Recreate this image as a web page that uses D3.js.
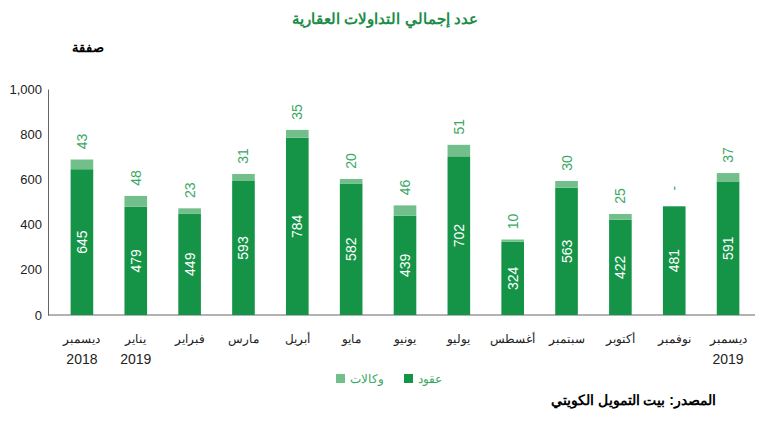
<!DOCTYPE html>
<html><head><meta charset="utf-8">
<script src="https://cdn.jsdelivr.net/npm/d3@7"></script>
<style>body{margin:0;background:#fff;font-family:"Liberation Sans",Arial,sans-serif}</style>
</head><body>
<script>
var months = ["ديسمبر", "يناير", "فبراير", "مارس", "أبريل", "مايو", "يونيو", "يوليو", "أغسطس", "سبتمبر", "أكتوبر", "نوفمبر", "ديسمبر"];
var years = ["2018", "2019", "", "", "", "", "", "", "", "", "", "", "2019"];
var contracts = [645, 479, 449, 593, 784, 582, 439, 702, 324, 563, 422, 481, 591];
var agencies = [43, 48, 23, 31, 35, 20, 46, 51, 10, 30, 25, 0, 37];
var agencyLabels = ["43", "48", "23", "31", "35", "20", "46", "51", "10", "30", "25", "-", "37"];
var yTicks = [0, 200, 400, 600, 800, 1000];

var width = 770, height = 424;
var dark = "#159447", light = "#72bf8b";

var svg = d3.select("body").append("svg").attr("width", width).attr("height", height);

var x = d3.scaleBand().domain(d3.range(months.length)).range([55, 755]).paddingInner(0.58).paddingOuter(0.29);
var y = d3.scaleLinear().domain([0, 1000]).range([315, 89]);

// title
svg.append("text").attr("x", 385).attr("y", 24).attr("text-anchor", "middle")
    .attr("fill", "#1e8c4a").attr("font-weight", "bold").attr("font-size", 15).text("عدد  إجمالي التداولات العقارية");
svg.append("text").attr("x", 88).attr("y", 52).attr("text-anchor", "middle")
    .attr("font-weight", "bold").attr("font-size", 13).text("صفقة");

// y axis
svg.append("g").attr("transform", "translate(48,0)")
    .call(d3.axisLeft(y).tickValues(yTicks).tickFormat(d3.format(",")).tickSize(0).tickPadding(6))
    .call(function(g){ g.select(".domain").attr("stroke", "#666"); })
    .selectAll("text").attr("font-size", 13).attr("fill", "#222");
svg.append("line").attr("x1", 48).attr("x2", 755).attr("y1", y(0)).attr("y2", y(0)).attr("stroke", "#666");

var g = svg.selectAll(".bar").data(months).enter().append("g");
g.append("rect").attr("x", function(d, i){ return x(i); }).attr("width", x.bandwidth())
    .attr("y", function(d, i){ return y(contracts[i]); })
    .attr("height", function(d, i){ return y(0) - y(contracts[i]); }).attr("fill", dark);
g.append("rect").attr("x", function(d, i){ return x(i); }).attr("width", x.bandwidth())
    .attr("y", function(d, i){ return y(contracts[i] + agencies[i]); })
    .attr("height", function(d, i){ return y(contracts[i]) - y(contracts[i] + agencies[i]); }).attr("fill", light);

// value labels, rotated
g.append("text").attr("transform", function(d, i){
        return "translate(" + (x(i) + x.bandwidth() / 2 + 5) + "," + ((y(0) + y(contracts[i])) / 2) + ") rotate(-90)"; })
    .attr("text-anchor", "middle").attr("fill", "#fff").attr("font-size", 14)
    .text(function(d, i){ return contracts[i]; });
g.append("text").attr("transform", function(d, i){
        return "translate(" + (x(i) + x.bandwidth() / 2 + 5) + "," + (y(contracts[i] + agencies[i]) - 18) + ") rotate(-90)"; })
    .attr("text-anchor", "middle").attr("fill", "#3aa865").attr("font-size", 14)
    .text(function(d, i){ return agencyLabels[i]; });

// x labels
g.append("text").attr("x", function(d, i){ return x(i) + x.bandwidth() / 2; }).attr("y", 343)
    .attr("text-anchor", "middle").attr("font-size", 12).attr("fill", "#222").text(function(d){ return d; });
g.append("text").attr("x", function(d, i){ return x(i) + x.bandwidth() / 2; }).attr("y", 364)
    .attr("text-anchor", "middle").attr("font-size", 14).attr("fill", "#222").text(function(d, i){ return years[i]; });

// legend
svg.append("rect").attr("x", 404).attr("y", 374).attr("width", 9).attr("height", 9).attr("fill", dark);
svg.append("text").attr("x", 418).attr("y", 383).attr("font-size", 12).attr("fill", "#3aa865").text("عقود");
svg.append("rect").attr("x", 336).attr("y", 374).attr("width", 9).attr("height", 9).attr("fill", light);
svg.append("text").attr("x", 350).attr("y", 383).attr("font-size", 12).attr("fill", "#3aa865").text("وكالات");

svg.append("text").attr("x", 716).attr("y", 405).attr("text-anchor", "end")
    .attr("font-weight", "bold").attr("font-size", 14).text("المصدر: بيت التمويل الكويتي");
</script>
</body></html>
